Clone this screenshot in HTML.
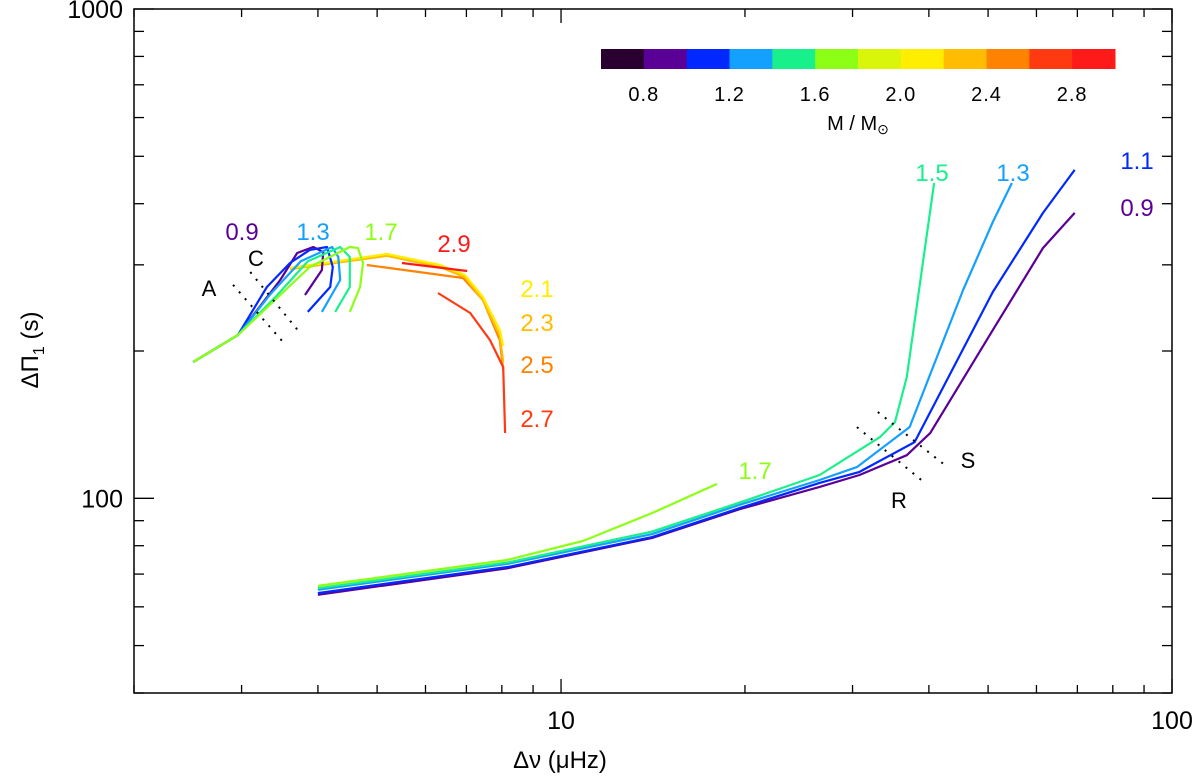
<!DOCTYPE html>
<html><head><meta charset="utf-8"><style>
body{margin:0;background:#fff}
svg{display:block}
text{font-family:"Liberation Sans",sans-serif}
</style></head><body>
<svg id="chart" width="1200" height="777" viewBox="0 0 1200 777" xmlns="http://www.w3.org/2000/svg">
<rect width="1200" height="777" fill="#fff"/>
<g id="plot"></g>
<g id="axes"></g>
<g id="cbar"></g>
</svg>
<script>
// ---- data ----
const xDomain = [2, 100];
const yDomain = [40, 1000];
const xTickLabels = ["10", "100"];
const yTickLabels = ["100", "1000"];
const cbarMasses = [0.6,0.8,1.0,1.2,1.4,1.6,1.8,2.0,2.2,2.4,2.6,2.8,3.0];
const cbarColors = ["#2a0030","#5a0096","#0028ff","#14a0ff","#18f08c","#8cff14","#d8f50a","#ffee00","#ffbc00","#ff8200","#ff3a10","#ff1a1a"];
const cbarTickLabels = ["0.8","1.2","1.6","2.0","2.4","2.8"];

// left branch (clump) tracks
const m09L_x = [2.5,2.96,3.47,3.70,3.93,4.08,4.06,3.81];
const m09L_y = [189.9,215.6,279.4,317.2,326.3,318.7,292.8,260.3];
const m11L_x = [2.5,2.96,3.30,3.60,3.88,4.14,4.23,4.19,3.85];
const m11L_y = [189.9,215.6,270.3,302.6,321.8,326.3,297,270.3,240.4];
const m13L_x = [2.5,2.96,3.35,3.75,4.22,4.32,4.35,4.06];
const m13L_y = [189.9,215.6,262,305,326.3,311.3,279.4,240.4];
const m15L_x = [2.5,2.96,3.40,3.85,4.35,4.51,4.51,4.27];
const m15L_y = [189.9,215.6,257,305,326.3,311.3,270.3,240.4];
const m17L_x = [2.5,2.96,3.43,3.88,4.51,4.65,4.74,4.69,4.51];
const m17L_y = [189.9,215.6,256.7,297,326.3,324.8,302.6,270.3,240.4];
const m21_x = [3.60,5.19,6.34,6.96,7.45,7.94,8.04];
const m21_y = [295.6,315.7,299.8,286,257.9,220.8,205];
const m23_x = [3.60,5.19,6.34,6.96,7.45,7.94,8.04];
const m23_y = [294,313,297,283,254,215,190];
const m25_x = [4.81,6.91,7.45,7.94,8.04];
const m25_y = [299.8,282,254.3,210.5,182.9];
const m27_x = [6.29,7.10,7.65,8.04,8.10];
const m27_y = [262.8,239.2,210.5,185.4,136];
const m29_x = [5.49,7.02];
const m29_y = [302.6,291.4];

// right branch (RGB) tracks
const m09R_x = [4,8.2,14.1,19.6,26.5,30.8,36.8,40.2,50.9,61.5,69.3];
const m09R_y = [63.5,72,83,95,105.5,111.6,122.5,135.9,220.7,324.7,383];
const m11R_x = [4,8.2,14.1,19.6,26.5,30.8,37.9,50.9,61.5,69.3];
const m11R_y = [64,72.4,83.3,95.5,107.5,113.2,130.3,264,383,469];
const m13R_x = [4,8.2,14.1,19.6,26.5,30.5,37.2,45.5,50.9,54.7];
const m13R_y = [65,73.5,84.5,97,109,115.8,139.8,266.5,367,441];
const m15R_x = [4,8.2,14.1,19.6,26.5,33.3,35.2,36.8,40.8];
const m15R_y = [65.5,74,85.5,98,111.6,133.5,143.2,177,441];
const m17R_x = [4,8.16,10.86,14.1,18];
const m17R_y = [66.2,74.8,81.8,93.3,107];

// dotted annotation lines (data coords)
const lineA_x = [2.905,3.507], lineA_y = [273,208.7];
const lineC_x = [3.10,3.74], lineC_y = [290,217.7];
const lineS_x = [33.0,42.5], lineS_y = [150.1,116.9];
const lineR_x = [30.5,39.4], lineR_y = [139.8,107.5];

// ---- layout ----
const L=134,R=1172,T=9,B=693;
const NS="http://www.w3.org/2000/svg";
function xs(v){return L+(R-L)*(Math.log10(v)-Math.log10(xDomain[0]))/(Math.log10(xDomain[1])-Math.log10(xDomain[0]));}
function ys(v){return B-(B-T)*(Math.log10(v)-Math.log10(yDomain[0]))/(Math.log10(yDomain[1])-Math.log10(yDomain[0]));}
function mk(tag,attrs,parent){const e=document.createElementNS(NS,tag);for(const k in attrs)e.setAttribute(k,attrs[k]);parent.appendChild(e);return e;}
const plot=document.getElementById('plot'),axes=document.getElementById('axes'),cb=document.getElementById('cbar');

function track(xa,ya,color,name){
  const p=mk('polyline',{points:xa.map((v,i)=>xs(v).toFixed(1)+','+ys(ya[i]).toFixed(1)).join(' '),fill:'none',stroke:color,'stroke-width':2.2,'stroke-linejoin':'round'},plot);
  
  
}
const C={0.9:"#5a0096",1.1:"#0028ff",1.3:"#14a0ff",1.5:"#18f08c",1.7:"#8cff14",2.1:"#ffee00",2.3:"#ffbc00",2.5:"#ff8200",2.7:"#ff3a10",2.9:"#ff1a1a"};
track(m09R_x,m09R_y,C[0.9],'track-0.9-rgb');
track(m11R_x,m11R_y,C[1.1],'track-1.1-rgb');
track(m13R_x,m13R_y,C[1.3],'track-1.3-rgb');
track(m15R_x,m15R_y,C[1.5],'track-1.5-rgb');
track(m17R_x,m17R_y,C[1.7],'track-1.7-rgb');
track(m25_x,m25_y,C[2.5],'track-2.5-clump');
track(m23_x,m23_y,C[2.3],'track-2.3-clump');
track(m21_x,m21_y,C[2.1],'track-2.1-clump');
track(m27_x,m27_y,C[2.7],'track-2.7-clump');
track(m29_x,m29_y,C[2.9],'track-2.9-clump');
track(m09L_x,m09L_y,C[0.9],'track-0.9-clump');
track(m11L_x,m11L_y,C[1.1],'track-1.1-clump');
track(m13L_x,m13L_y,C[1.3],'track-1.3-clump');
track(m15L_x,m15L_y,C[1.5],'track-1.5-clump');
track(m17L_x,m17L_y,C[1.7],'track-1.7-clump');

function dotted(xa,ya,name){
  const l=mk('line',{x1:xs(xa[0]),y1:ys(ya[0]),x2:xs(xa[1]),y2:ys(ya[1]),stroke:'#000','stroke-width':2,'stroke-dasharray':'2 7'},plot);
  
  
}
dotted(lineA_x,lineA_y,'line-a');
dotted(lineC_x,lineC_y,'line-c');
dotted(lineS_x,lineS_y,'line-s');
dotted(lineR_x,lineR_y,'line-r');

function label(txt,x,y,color,name,size,anchor){
  const t=mk('text',{x:x,y:y,fill:color,'font-size':size||24,'text-anchor':anchor||'middle'},plot);
  t.textContent=txt;
  
  
  return t;
}
label('0.9',242,240,C[0.9],'label-0.9-clump');
label('1.3',313,240,C[1.3],'label-1.3-clump');
label('1.7',381,240,C[1.7],'label-1.7-clump');
label('2.9',454,252,C[2.9],'label-2.9');
label('2.1',537,297,C[2.1],'label-2.1');
label('2.3',537,331,C[2.3],'label-2.3');
label('2.5',537,373,C[2.5],'label-2.5');
label('2.7',537,427,C[2.7],'label-2.7');
label('1.5',932,181,C[1.5],'label-1.5-rgb');
label('1.3',1013,181,C[1.3],'label-1.3-rgb');
label('1.1',1137,169,C[1.1],'label-1.1-rgb');
label('0.9',1137,216,C[0.9],'label-0.9-rgb');
label('1.7',755,479,C[1.7],'label-1.7-rgb');
label('A',209,296,'#000','label-a',22).setAttribute('font-family','Liberation Serif');
label('C',256,266,'#000','label-c',22).setAttribute('font-family','Liberation Serif');
label('R',899,508,'#000','label-r',22).setAttribute('font-family','Liberation Serif');
label('S',968,468,'#000','label-s',22).setAttribute('font-family','Liberation Serif');

// axes frame
const fr=mk('rect',{x:L,y:T,width:R-L,height:B-T,fill:'none',stroke:'#000','stroke-width':1.5},axes);


function tk(x1,y1,x2,y2){mk('line',{x1:x1,y1:y1,x2:x2,y2:y2,stroke:'#000','stroke-width':1.3},axes);}
for(let d=1;d<=100;d*=10){for(let k=1;k<10;k++){const v=d*k;if(v<xDomain[0]||v>xDomain[1])continue;const x=xs(v);const len=(k===1)?14:8;tk(x,B,x,B-len);tk(x,T,x,T+len);}}
for(let d=10;d<=1000;d*=10){for(let k=1;k<10;k++){const v=d*k;if(v<yDomain[0]||v>yDomain[1])continue;const y=ys(v);const len=(k===1)?20:10;tk(L,y,L+len,y);tk(R,y,R-len,y);}}
[10,100].forEach((v,i)=>{const t=mk('text',{x:xs(v),y:729,'font-size':25,'text-anchor':'middle',fill:'#000'},axes);t.textContent=xTickLabels[i];

});
[100,1000].forEach((v,i)=>{const t=mk('text',{x:123,y:ys(v)+9,'font-size':25,'text-anchor':'end',fill:'#000'},axes);t.textContent=yTickLabels[i];

});
const xt=mk('text',{x:560,y:768,'font-size':24,'text-anchor':'middle',fill:'#000','font-family':'Liberation Serif'},axes);
xt.textContent='Δν (μHz)';


const yt=mk('text',{x:0,y:0,'font-size':24,'text-anchor':'middle',fill:'#000','font-family':'Liberation Serif',transform:'translate(38,350) rotate(-90)'},axes);
yt.innerHTML='ΔΠ<tspan font-size="16" dy="6">1</tspan><tspan dy="-6"> (s)</tspan>';



// colorbar
const cx0=601,cx1=1115,cy0=49,cy1=69;
function cbx(m){return cx0+(cx1-cx0)*(m-cbarMasses[0])/(cbarMasses[cbarMasses.length-1]-cbarMasses[0]);}
cbarColors.forEach((c,i)=>{const r=mk('rect',{x:cbx(cbarMasses[i]),y:cy0,width:cbx(cbarMasses[i+1])-cbx(cbarMasses[i])+0.5,height:cy1-cy0,fill:c},cb);

});
cbarTickLabels.forEach(s=>{const t=mk('text',{x:cbx(parseFloat(s)),y:101,'font-size':20,'text-anchor':'middle',fill:'#000','letter-spacing':'1'},cb);t.textContent=s;

});
const ct=mk('text',{x:858,y:130,'font-size':20,'text-anchor':'middle',fill:'#000'},cb);
ct.innerHTML='M  /  M<tspan font-size="14" dy="4">⊙</tspan>';


</script>
</body></html>
